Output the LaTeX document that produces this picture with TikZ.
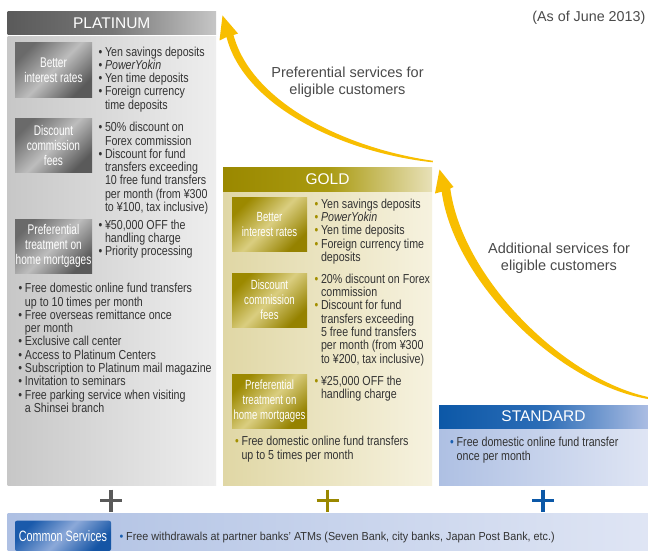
\documentclass[tikz,border=0pt]{standalone}
\usepackage{fontspec}
\setmainfont{Liberation Sans}
\newfontfamily\cndA[FakeStretch=0.82]{Liberation Sans}
\newfontfamily\cndB[FakeStretch=0.72]{Liberation Sans}
\newfontfamily\cndC[FakeStretch=0.93]{Liberation Sans}
\definecolor{txt}{HTML}{333333}
\definecolor{captxt}{HTML}{4A4A4A}
\definecolor{ptHa}{HTML}{5A5A5A}
\definecolor{ptHm}{HTML}{767676}
\definecolor{ptHb}{HTML}{C6C6C6}
\definecolor{ptBa}{HTML}{C7C7C7}
\definecolor{ptBb}{HTML}{EEEEEE}
\definecolor{ptLa}{HTML}{6A6A6A}
\definecolor{ptLm}{HTML}{BDBDBD}
\definecolor{ptLb}{HTML}{5A5A5A}
\definecolor{ptDot}{HTML}{333333}
\definecolor{gdHa}{HTML}{9A8800}
\definecolor{gdHm}{HTML}{A99A10}
\definecolor{gdHb}{HTML}{E8E1B8}
\definecolor{gdBa}{HTML}{E0D7A5}
\definecolor{gdBb}{HTML}{F6F2DF}
\definecolor{gdLa}{HTML}{9C8900}
\definecolor{gdLm}{HTML}{DACE80}
\definecolor{gdLb}{HTML}{958200}
\definecolor{gdDot}{HTML}{A38F00}
\definecolor{blHa}{HTML}{0C58A7}
\definecolor{blHm}{HTML}{2C6DB7}
\definecolor{blHb}{HTML}{ABBDE3}
\definecolor{blBa}{HTML}{AEC0E3}
\definecolor{blBb}{HTML}{DFE5F4}
\definecolor{blLa}{HTML}{1A5AAB}
\definecolor{blLm}{HTML}{8CA9D9}
\definecolor{blLb}{HTML}{1555A5}
\definecolor{blDot}{HTML}{1A5FB0}
\definecolor{yel}{HTML}{F8BE00}
\newcommand\bu[1]{\makebox[6.5pt][l]{\textcolor{#1}{\char"2022}}}
\newcommand\ind{\hspace*{6.5pt}}
\newcommand\st{\rule{0pt}{10.5pt}}
\tikzset{
  colbox/.style={anchor=north west, inner sep=0pt, outer sep=0pt},
  hdr/.style={colbox, text=white, font=\fontsize{15.5}{18}\selectfont},
  lbl/.style={colbox, minimum height=54, align=center, text=white},
  plbl/.style={lbl, minimum width=77, font=\cndB\fontsize{14}{15}\selectfont,
     top color=ptLa, bottom color=ptLb, middle color=ptLm, shading angle=45},
  glbl/.style={lbl, minimum width=75, font=\cndB\fontsize{13.3}{15}\selectfont,
     top color=gdLa, bottom color=gdLb, middle color=gdLm, shading angle=45},
  lst/.style={colbox, align=left, text=txt, font=\cndA\fontsize{13}{13.3}\selectfont},
  captext/.style={inner sep=0pt, align=center, text=captxt, font=\fontsize{14.5}{17}\selectfont},
  plussign/.style={line width=3.4pt},
  arr/.style={fill=yel, draw=none}
}
\begin{document}
\begin{tikzpicture}[x=1pt,y=-1pt]
\useasboundingbox (0,0) rectangle (648,551);
\fill[white] (0,0) rectangle (648,551);

% ---------- PLATINUM ----------
\node[colbox, minimum width=208.5, minimum height=448, left color=ptBa, right color=ptBb] (pbody) at (7.5,37) {};
\node[hdr, minimum width=208.5, minimum height=23.5, left color=ptHa, right color=ptHb, middle color=ptHm] (phead) at (7.5,11.5) {PLATINUM};
\node[plbl] (pb1) at (15,43) {Better\\interest rates};
\node[plbl] (pb2) at (15,118) {Discount\\commission\\fees};
\node[plbl] (pb3) at (15,219) {Preferential\\treatment on\\home mortgages};
\node[lst] (pl1) at (98.5,45.5) {\st\bu{ptDot}Yen savings deposits\\\bu{ptDot}\textit{PowerYokin}\\\bu{ptDot}Yen time deposits\\\bu{ptDot}Foreign currency\\\ind time deposits};
\node[lst] (pl2) at (98.5,121.2) {\st\bu{ptDot}50\% discount on\\\ind Forex commission\\\bu{ptDot}Discount for fund\\\ind transfers exceeding\\\ind 10 free fund transfers\\\ind per month (from ¥300\\\ind to ¥100, tax inclusive)};
\node[lst] (pl3) at (98.5,218.8) {\st\bu{ptDot}¥50,000 OFF the\\\ind handling charge\\\bu{ptDot}Priority processing};
\node[lst] (pl4) at (18.5,282.2) {\st\bu{ptDot}Free domestic online fund transfers\\\ind up to 10 times per month\\\bu{ptDot}Free overseas remittance once\\\ind per month\\\bu{ptDot}Exclusive call center\\\bu{ptDot}Access to Platinum Centers\\\bu{ptDot}Subscription to Platinum mail magazine\\\bu{ptDot}Invitation to seminars\\\bu{ptDot}Free parking service when visiting\\\ind a Shinsei branch};

% ---------- GOLD ----------
\node[colbox, minimum width=209, minimum height=293, left color=gdBa, right color=gdBb] (gbody) at (223,192) {};
\node[hdr, minimum width=209, minimum height=24, left color=gdHa, right color=gdHb, middle color=gdHm] (ghead) at (223,167) {GOLD};
\node[glbl] (gb1) at (232,197) {Better\\interest rates};
\node[glbl] (gb2) at (232,273) {Discount\\commission\\fees};
\node[glbl] (gb3) at (232,374) {Preferential\\treatment on\\home mortgages};
\node[lst] (gl1) at (314.5,197.8) {\st\bu{gdDot}Yen savings deposits\\\bu{gdDot}\textit{PowerYokin}\\\bu{gdDot}Yen time deposits\\\bu{gdDot}Foreign currency time\\\ind deposits};
\node[lst] (gl2) at (314.5,272.8) {\st\bu{gdDot}20\% discount on Forex\\\ind commission\\\bu{gdDot}Discount for fund\\\ind transfers exceeding\\\ind 5 free fund transfers\\\ind per month (from ¥300\\\ind to ¥200, tax inclusive)};
\node[lst] (gl3) at (314.5,374.5) {\st\bu{gdDot}¥25,000 OFF the\\\ind handling charge};
\node[lst] (gl4) at (235,435.2) {\st\bu{gdDot}Free domestic online fund transfers\\\ind up to 5 times per month};

% ---------- STANDARD ----------
\node[colbox, minimum width=209, minimum height=57, left color=blBa, right color=blBb] (sbody) at (439,428) {};
\node[hdr, minimum width=209, minimum height=23, left color=blHa, right color=blHb, middle color=blHm] (shead) at (439,405) {STANDARD};
\node[lst] (sl1) at (450.2,436.2) {\st\bu{blDot}Free domestic online fund transfer\\\ind once per month};

% ---------- plus signs ----------
\draw[plussign, ptHa] (111,489.5) -- (111,511.5) (100,500.5) -- (122,500.5);
\draw[plussign, gdHa] (327.5,489.5) -- (327.5,511.5) (316.5,500.5) -- (338.5,500.5);
\draw[plussign, blHa] (543,489.5) -- (543,511.5) (532,500.5) -- (554,500.5);

% ---------- common services ----------
\node[colbox, minimum width=640.5, minimum height=37.7, left color=blBa, right color=blBb] (cbar) at (7.5,513.3) {};
\node[colbox, minimum width=96, minimum height=30.3, rounded corners=2pt, text=white,
  top color=blLa, bottom color=blLb, middle color=blLm, shading angle=45,
  font=\cndB\fontsize{15}{16}\selectfont] (cbox) at (15,520.7) {Common Services};
\node[anchor=base west, inner sep=0pt, text=txt, font=\cndC\fontsize{11.6}{13}\selectfont] (ctext) at (119.5,540.7) {\makebox[6.5pt][l]{\textcolor{blDot}{\char"2022}}Free withdrawals at partner banks’ ATMs (Seven Bank, city banks, Japan Post Bank, etc.)};

% ---------- captions ----------
\node[anchor=east, inner sep=0pt, text=captxt, font=\fontsize{14.3}{17}\selectfont] (asof) at (645.5,18) {(As of June 2013)};
\node[captext] (cap1) at (347.5,82.5) {Preferential services for\\eligible customers};
\node[captext] (cap2) at (559,258) {Additional services for\\eligible customers};

% ---------- arrows ----------
\fill[arr] (432.5,162.3) .. controls (342,152.5) and (244,106) .. (226.5,37)
  -- (219.5,40.5) -- (222.5,15.5) -- (238,33.5) -- (233.5,35)
  .. controls (251.5,102) and (344,148) .. (433,160.8) -- cycle;
\fill[arr] (648,399) .. controls (558,384) and (454,281) .. (441.7,191.7)
  -- (435,193.5) -- (439.5,169.5) -- (453.5,187) -- (450.3,188.5)
  .. controls (462,277) and (562,378) .. (648,397) -- cycle;
\end{tikzpicture}
\end{document}
